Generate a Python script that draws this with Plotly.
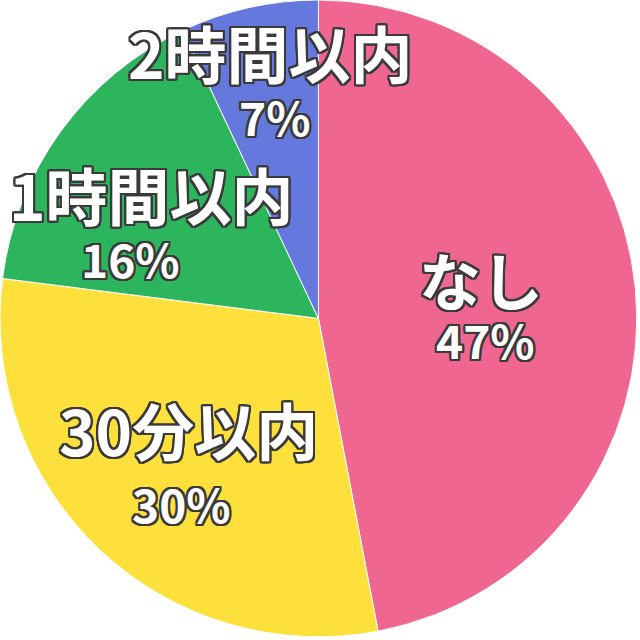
import plotly.graph_objects as go

labels = ["なし", "30分以内", "1時間以内", "2時間以内"]
values = [47, 30, 16, 7]
colors = ["#EF6690", "#FDE03B", "#2DB55D", "#6478DD"]

# layout: label / percent centres in pixels (640x640 canvas)
label_pos = [(481, 279), (188, 429), (151, 194), (270, 52)]
pct_pos = [(485, 339), (181, 503), (130, 258), (274, 116)]

W = H = 640
o = "#3a3a3a"
shadow = ", ".join(f"{dx}px {dy}px 0 {o}" for dx, dy in
                   [(-2, -2), (2, -2), (-2, 2), (2, 2), (0, 2), (0, -2), (2, 0), (-2, 0),
                    (-1, -2), (1, -2), (-1, 2), (1, 2), (2, 1), (2, -1), (-2, 1), (-2, -1)])
fam = "Noto Sans CJK JP"

fig = go.Figure(go.Pie(
    labels=labels, values=values, sort=False, direction="clockwise", rotation=0,
    marker=dict(colors=colors, line=dict(color="white", width=1)),
    textinfo="none", hoverinfo="label+percent", showlegend=False,
    domain=dict(x=[0, 0.995], y=[0.005, 1]),
))

total = sum(values)
ann = []
for i, lab in enumerate(labels):
    pct = f"{round(values[i] / total * 100)}%"
    for txt, (px, py), size in [(lab, label_pos[i], 62), (pct, pct_pos[i], 46)]:
        ann.append(dict(
            text=txt, x=px / W, y=1 - py / H, xref="paper", yref="paper",
            xanchor="center", yanchor="middle", showarrow=False,
            font=dict(family=fam, size=size, color="white", weight=700, shadow=shadow),
        ))

fig.update_layout(
    width=W, height=H, margin=dict(l=0, r=0, t=0, b=0),
    paper_bgcolor="white", plot_bgcolor="white", annotations=ann,
)
fig.write_html("out.html", config={"displayModeBar": False},
               post_script="document.body.style.margin='0';")
